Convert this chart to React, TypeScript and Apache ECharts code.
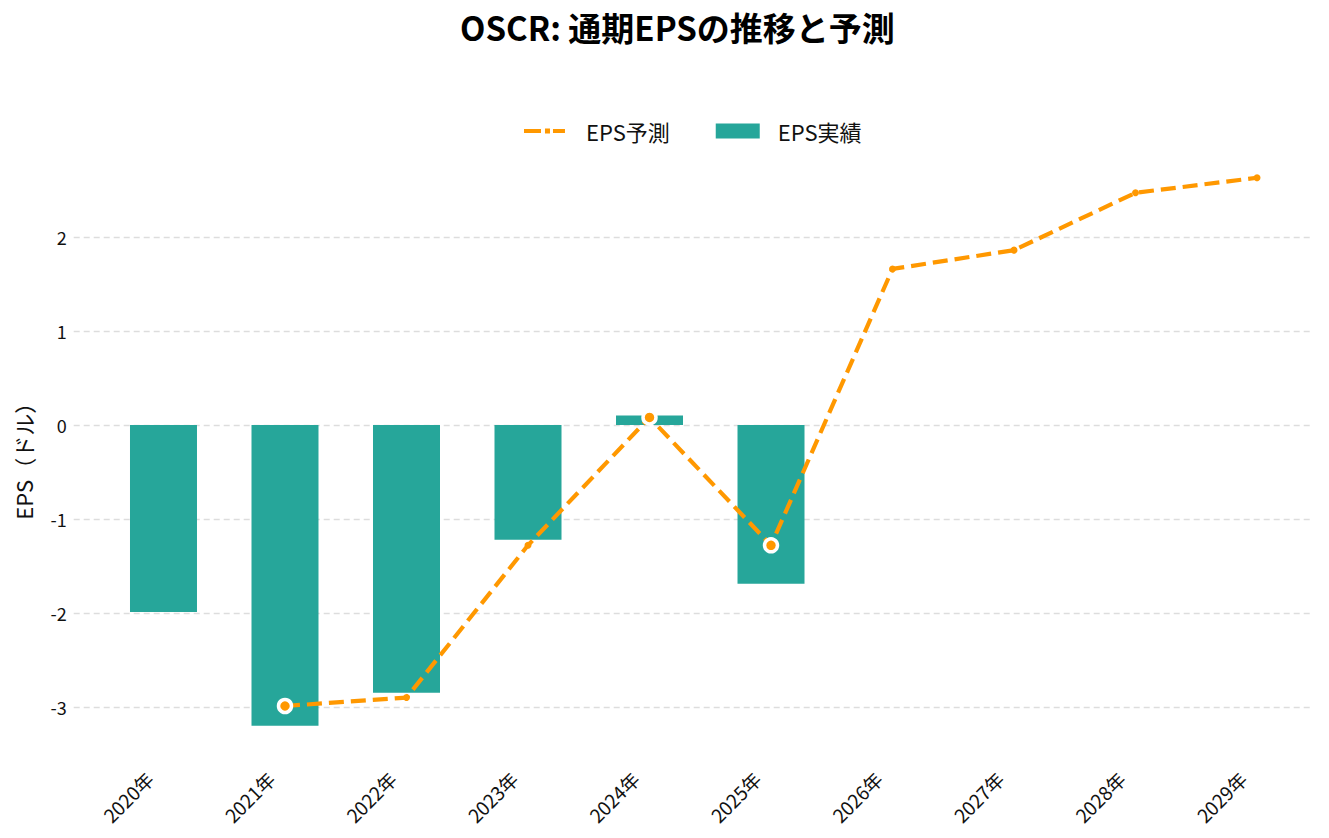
import React, { useEffect, useRef } from "react";
import * as echarts from "echarts";

const years = ["2020年", "2021年", "2022年", "2023年", "2024年", "2025年", "2026年", "2027年", "2028年", "2029年"];
const actualEps = [-1.99, -3.2, -2.85, -1.22, 0.1, -1.69];
const forecastEps = [null, -2.99, -2.9, -1.28, 0.08, -1.28, 1.66, 1.86, 2.47, 2.63];
const highlighted = [1, 4, 5];

const FONT = '"Noto Sans CJK JP", "Noto Sans", sans-serif';
const ORANGE = "#FF9800";
const TEAL = "#26A69A";

const LINE_ICON =
  "path://M0,0h0.01v0.01h-0.01Z M44,15h0.01v0.01h-0.01Z " +
  "M0,5.5h17v4h-17Z M21,5h5v5h-5Z M29,5.5h12v4h-12Z";

const isInt = (v: number) => Math.abs(v - Math.round(v)) < 1e-6;

export default function App() {
  const ref = useRef<HTMLDivElement>(null);
  useEffect(() => {
    if (!ref.current) return;
    const chart = echarts.init(ref.current, null, { renderer: "svg" });
    const barData = actualEps.map((v, i) => [i, v]);
    const lineData: any[] = [];
    forecastEps.forEach((v, i) => {
      if (v === null) return;
      const hl = highlighted.includes(i);
      lineData.push({
        value: [i, v],
        symbolSize: hl ? 13 : 7,
        itemStyle: hl
          ? { color: ORANGE, borderColor: "#ffffff", borderWidth: 3.5 }
          : { color: ORANGE, borderWidth: 0 },
      });
    });
    chart.setOption({
      animation: false,
      backgroundColor: "#ffffff",
      textStyle: { fontFamily: FONT },
      title: {
        text: "OSCR: 通期EPSの推移と予測",
        left: 455,
        top: 5,
        textStyle: { fontFamily: FONT, fontSize: 33, fontWeight: "bold", color: "#000" },
      },
      legend: {
        top: 115,
        left: 519,
        data: [
          { name: "EPS予測", icon: LINE_ICON, itemStyle: { color: ORANGE } },
          { name: "EPS実績", icon: "rect", itemStyle: { color: TEAL } },
        ],
        itemWidth: 44,
        itemHeight: 15,
        itemGap: 46,
        textStyle: { fontFamily: FONT, fontSize: 22, color: "#111", padding: [0, 0, 0, 13] },
      },
      grid: { left: 73.7, right: 15.6, top: 150.5, bottom: 85, containLabel: false },
      xAxis: {
        type: "value",
        min: -0.739,
        max: 9.464,
        minInterval: 1,
        maxInterval: 1,
        axisLine: { show: false },
        axisTick: { show: false },
        splitLine: { show: false },
        axisLabel: {
          rotate: 45,
          fontSize: 19,
          color: "#111",
          fontFamily: FONT,
          margin: 8,
          padding: [0, 20, 0, 0],
          showMinLabel: false,
          showMaxLabel: false,
          formatter: (v: number) => (isInt(v) && v >= 0 && v < years.length ? years[Math.round(v)] : ""),
        },
      },
      yAxis: {
        type: "value",
        min: -3.49,
        max: 2.92,
        minInterval: 1,
        maxInterval: 1,
        name: "EPS（ドル）",
        nameLocation: "middle",
        nameGap: 40,
        nameTextStyle: { fontFamily: FONT, fontSize: 22, color: "#111", padding: [0, 8, 0, 0] },
        axisLine: { show: false },
        axisTick: { show: false },
        axisLabel: {
          fontSize: 18,
          color: "#111",
          fontFamily: FONT,
          margin: 7,
          showMinLabel: false,
          showMaxLabel: false,
          formatter: (v: number) => (isInt(v) ? String(Math.round(v)) : ""),
        },
        splitLine: {
          show: true,
          showMinLine: false,
          showMaxLine: false,
          lineStyle: { color: "#dddddd", width: 1.3, type: [6, 4] },
        },
      },
      series: [
        {
          name: "EPS実績",
          type: "bar",
          data: barData,
          barWidth: 67,
          itemStyle: { color: TEAL },
          z: 2,
        },
        {
          name: "EPS予測",
          type: "line",
          data: lineData,
          symbol: "circle",
          symbolSize: 7,
          itemStyle: { color: ORANGE },
          lineStyle: { color: ORANGE, width: 4.2, type: [15, 7] },
          z: 3,
        },
      ],
    });
    return () => chart.dispose();
  }, []);
  return <div ref={ref} style={{ position: "absolute", left: 0, top: 0, width: 1329, height: 838 }} />;
}
